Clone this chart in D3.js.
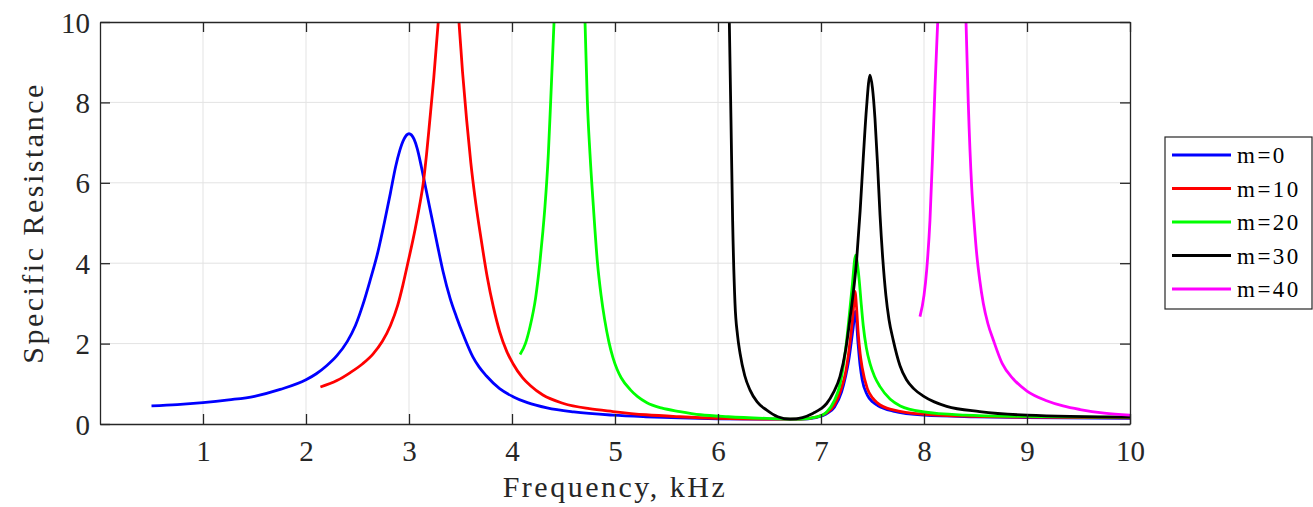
<!DOCTYPE html>
<html>
<head>
<meta charset="utf-8">
<script src="https://cdn.jsdelivr.net/npm/d3@7"></script>
<style>
  body { margin: 0; background: #fff; }
  svg { display: block; font-family: "Liberation Serif", "DejaVu Serif", serif; }
</style>
</head>
<body>
<div id="chart"></div>
<script>
// 주파수(kHz) / 비저항 값 — 그림에서 읽은 값
const xTicks = [1, 2, 3, 4, 5, 6, 7, 8, 9, 10];
const yTicks = [0, 2, 4, 6, 8, 10];
const seriesNames = ["m=0", "m=10", "m=20", "m=30", "m=40"];
const seriesColors = ["#0000ff", "#ff0000", "#00ff00", "#000000", "#ff00ff"];

const m0 = [
  [0.5, 0.45], [0.75, 0.48], [1.0, 0.53], [1.25, 0.6], [1.5, 0.69], [1.75, 0.86],
  [2.0, 1.1], [2.1, 1.25], [2.2, 1.45], [2.3, 1.7], [2.4, 2.05], [2.48, 2.45],
  [2.55, 2.95], [2.62, 3.55], [2.7, 4.3], [2.76, 5.0], [2.82, 5.75], [2.87, 6.4],
  [2.91, 6.8], [2.95, 7.08], [3.0, 7.22], [3.05, 7.08], [3.08, 6.85], [3.12, 6.4],
  [3.16, 5.9], [3.2, 5.4], [3.24, 4.9], [3.28, 4.4], [3.33, 3.8], [3.4, 3.12],
  [3.46, 2.67], [3.53, 2.2], [3.62, 1.67], [3.68, 1.42], [3.75, 1.2], [3.88, 0.88],
  [4.01, 0.68], [4.15, 0.53], [4.34, 0.4], [4.6, 0.3], [4.98, 0.22], [5.3, 0.18],
  [5.63, 0.15], [6.0, 0.13], [6.5, 0.12], [6.8, 0.12], [6.95, 0.16], [7.05, 0.25],
  [7.13, 0.42], [7.2, 0.8], [7.24, 1.2], [7.27, 1.6], [7.31, 2.35], [7.335, 2.8],
  [7.36, 2.0], [7.38, 1.45], [7.4, 1.1], [7.45, 0.72], [7.5, 0.55], [7.55, 0.46],
  [7.7, 0.32], [8.0, 0.22], [8.5, 0.18], [9.0, 0.16], [10.0, 0.14]
];
const m10 = [
  [2.14, 0.92], [2.3, 1.08], [2.43, 1.28], [2.55, 1.5], [2.65, 1.74], [2.74, 2.05],
  [2.82, 2.45], [2.89, 2.95], [2.94, 3.45], [2.984, 3.95], [3.06, 4.85], [3.1, 5.4],
  [3.139, 6.0], [3.17, 6.7], [3.2, 7.5], [3.24, 8.6], [3.284, 10], [3.33, 11.2],
  [3.385, 11.8], [3.44, 11.2], [3.485, 10], [3.52, 8.75], [3.56, 7.55], [3.6, 6.5],
  [3.64, 5.65], [3.7, 4.6], [3.76, 3.65], [3.82, 2.9], [3.88, 2.3], [3.95, 1.8],
  [4.01, 1.5], [4.1, 1.16], [4.18, 0.95], [4.3, 0.72], [4.5, 0.51], [4.75, 0.38],
  [4.98, 0.31], [5.3, 0.23], [5.63, 0.18], [6.0, 0.14], [6.5, 0.12], [6.8, 0.12],
  [6.95, 0.17], [7.05, 0.27], [7.13, 0.47], [7.2, 0.9], [7.24, 1.3], [7.27, 1.8],
  [7.31, 2.7], [7.33, 3.3], [7.345, 2.9], [7.36, 2.3], [7.38, 1.75], [7.4, 1.4],
  [7.45, 0.88], [7.5, 0.65], [7.55, 0.52], [7.7, 0.35], [8.0, 0.24], [8.5, 0.19],
  [9.0, 0.17], [10.0, 0.15]
];
const m20 = [
  [4.078, 1.73], [4.13, 2.0], [4.175, 2.42], [4.23, 3.15], [4.27, 4.0], [4.3, 4.8],
  [4.32, 5.41], [4.353, 6.73], [4.376, 8.06], [4.408, 10], [4.47, 14], [4.56, 17],
  [4.65, 14], [4.709, 10], [4.731, 8.06], [4.757, 6.73], [4.79, 5.41], [4.83, 4.0],
  [4.865, 3.2], [4.9, 2.59], [4.94, 2.05], [4.98, 1.65], [5.02, 1.36], [5.06, 1.15],
  [5.15, 0.85], [5.22, 0.68], [5.31, 0.53], [5.45, 0.4], [5.63, 0.31], [5.83, 0.23],
  [6.1, 0.18], [6.47, 0.14], [6.8, 0.12], [6.95, 0.17], [7.055, 0.3], [7.13, 0.58],
  [7.184, 0.98], [7.22, 1.5], [7.25, 2.1], [7.3, 3.35], [7.337, 4.2], [7.355, 3.95],
  [7.372, 3.55], [7.39, 3.0], [7.41, 2.45], [7.44, 1.9], [7.476, 1.5], [7.52, 1.18],
  [7.573, 0.93], [7.67, 0.62], [7.77, 0.45], [8.0, 0.3], [8.4, 0.22], [8.87, 0.19],
  [10.0, 0.17]
];
const m30 = [
  [6.1, 11.5], [6.11, 10], [6.126, 7.56], [6.142, 5.07], [6.165, 3.0], [6.19, 2.2],
  [6.214, 1.76], [6.26, 1.2], [6.31, 0.85], [6.38, 0.55], [6.47, 0.35], [6.58, 0.18],
  [6.7, 0.12], [6.82, 0.16], [6.925, 0.27], [7.0, 0.38], [7.055, 0.51], [7.12, 0.78],
  [7.184, 1.18], [7.24, 1.85], [7.28, 2.59], [7.346, 4.08], [7.38, 5.3], [7.41, 6.6],
  [7.44, 7.8], [7.476, 8.68], [7.5, 8.35], [7.524, 7.6], [7.55, 6.4], [7.573, 5.2],
  [7.6, 4.1], [7.63, 3.2], [7.66, 2.6], [7.7, 2.1], [7.767, 1.45], [7.83, 1.1],
  [7.9, 0.88], [7.99, 0.7], [8.1, 0.55], [8.22, 0.44], [8.54, 0.31], [9.0, 0.22],
  [10.0, 0.17]
];
const m40 = [
  [7.961, 2.67], [8.0, 3.2], [8.026, 3.83], [8.058, 5.07], [8.084, 6.73], [8.107, 8.39],
  [8.133, 10], [8.2, 14], [8.27, 17], [8.34, 14], [8.408, 10], [8.43, 7.98],
  [8.463, 5.9], [8.49, 4.9], [8.511, 4.25], [8.54, 3.6], [8.576, 3.0], [8.62, 2.5],
  [8.673, 2.09], [8.76, 1.5], [8.867, 1.12], [9.0, 0.82], [9.19, 0.58], [9.35, 0.45],
  [9.515, 0.36], [9.75, 0.27], [10.0, 0.22]
];
const seriesData = [m0, m10, m20, m30, m40];

const W = 1313, H = 507;
const plotL = 100, plotR = 1130, plotT = 22, plotB = 424;
const axisColor = "#262626";
const fontName = "Liberation Serif";

const svg = d3.select("#chart").append("svg")
  .attr("width", W).attr("height", H);

const x = d3.scaleLinear().domain([0, 10]).range([plotL, plotR]);
const y = d3.scaleLinear().domain([0, 10]).range([plotB, plotT]);

svg.append("defs").append("clipPath").attr("id", "plot-clip")
  .append("rect").attr("x", plotL).attr("y", plotT)
  .attr("width", plotR - plotL).attr("height", plotB - plotT);

// 그리드
const grid = svg.append("g").attr("stroke", "#e3e3e3").attr("stroke-width", 1);
grid.selectAll("line.gx").data(xTicks.filter(d => d < 10)).join("line")
  .attr("class", "gx")
  .attr("x1", d => x(d)).attr("x2", d => x(d)).attr("y1", plotT).attr("y2", plotB);
grid.selectAll("line.gy").data(yTicks.filter(d => d > 0 && d < 10)).join("line")
  .attr("class", "gy")
  .attr("y1", d => y(d)).attr("y2", d => y(d)).attr("x1", plotL).attr("x2", plotR);

// 곡선
const line = d3.line().x(d => x(d[0])).y(d => y(d[1])).curve(d3.curveMonotoneX);
svg.append("g").attr("clip-path", "url(#plot-clip)")
  .selectAll("path").data(seriesData).join("path")
  .attr("d", line)
  .attr("fill", "none")
  .attr("stroke", (d, i) => seriesColors[i])
  .attr("stroke-width", 2.8)
  .attr("stroke-linejoin", "round");

// 축 (안쪽 눈금, 박스)
const tickLen = 10;
const xAxis = d3.axisBottom(x).tickValues(xTicks).tickSizeInner(-tickLen).tickSizeOuter(0).tickPadding(20);
const yAxis = d3.axisLeft(y).tickValues(yTicks).tickSizeInner(-tickLen).tickSizeOuter(0).tickPadding(10);

const gx = svg.append("g").attr("transform", `translate(0,${plotB})`).call(xAxis);
const gy = svg.append("g").attr("transform", `translate(${plotL},0)`).call(yAxis);
const gx2 = svg.append("g").attr("transform", `translate(0,${plotT})`)
  .call(d3.axisTop(x).tickValues(xTicks).tickSizeInner(-tickLen).tickSizeOuter(0).tickFormat(""));
const gy2 = svg.append("g").attr("transform", `translate(${plotR},0)`)
  .call(d3.axisRight(y).tickValues(yTicks).tickSizeInner(-tickLen).tickSizeOuter(0).tickFormat(""));

[gx, gy, gx2, gy2].forEach(g => {
  g.select(".domain").attr("stroke", axisColor).attr("stroke-width", 1.3);
  g.selectAll(".tick line").attr("stroke", axisColor).attr("stroke-width", 1.3);
  g.selectAll("text").attr("fill", axisColor).attr("font-size", 29)
    .attr("font-family", fontName);
});
gx.selectAll("text").attr("dy", "0.6em");
gy.selectAll("text").attr("dy", "0.35em");

svg.append("text")
  .attr("x", (plotL + plotR) / 2).attr("y", 497)
  .attr("text-anchor", "middle").attr("fill", axisColor)
  .attr("font-family", fontName)
  .attr("font-size", 30).attr("letter-spacing", 2.5)
  .text("Frequency, kHz");

svg.append("text")
  .attr("transform", `translate(43,${(plotT + plotB) / 2}) rotate(-90)`)
  .attr("text-anchor", "middle").attr("fill", axisColor)
  .attr("font-family", fontName)
  .attr("font-size", 30).attr("letter-spacing", 2.5)
  .text("Specific Resistance");

// 범례
const legend = svg.append("g").attr("transform", "translate(1165,137)");
legend.append("rect").attr("width", 147).attr("height", 172)
  .attr("fill", "#fff").attr("stroke", axisColor).attr("stroke-width", 1.2);
const rows = legend.selectAll("g.row").data(seriesNames).join("g")
  .attr("class", "row")
  .attr("transform", (d, i) => `translate(0,${18 + i * 33.5})`);
rows.append("line").attr("x1", 7).attr("x2", 66).attr("y1", 0).attr("y2", 0)
  .attr("stroke", (d, i) => seriesColors[i]).attr("stroke-width", 2.8);
rows.append("text").attr("x", 72).attr("y", 0).attr("dy", "0.35em")
  .attr("font-family", fontName).attr("letter-spacing", 2.5)
  .attr("font-size", 23).attr("fill", "#000").text(d => d);
</script>
</body>
</html>
